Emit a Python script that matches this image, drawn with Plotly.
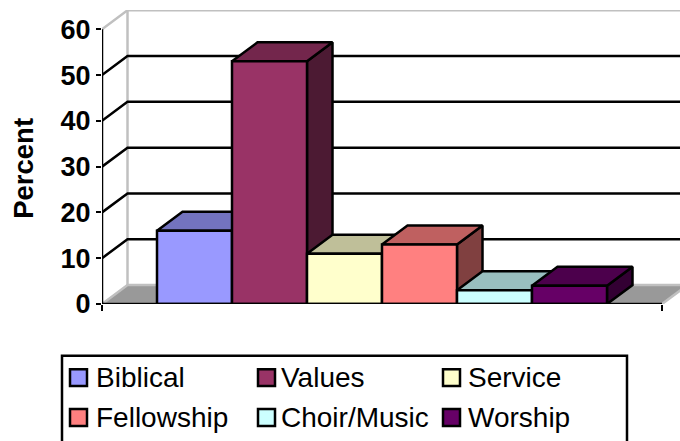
import plotly.graph_objects as go

# ---- data ----
categories = ["Biblical", "Values", "Service", "Fellowship", "Choir/Music", "Worship"]
values = [16, 53, 11, 13, 3, 4]
colors = ["#9999FF", "#993366", "#FFFFCC", "#FF8080", "#CCFFFF", "#660066"]
y_ticks = [0, 10, 20, 30, 40, 50, 60]
y_title = "Percent"

# ---- layout constants (pixels of the 680x441 page) ----
W, H = 680, 441
PLOT_L, PLOT_R, PLOT_T, PLOT_B = 102, 680, 10, 304.3
PX_PER_BAR = 75.0
PX_PER_PCT = 275.0 / 60
X_END = 560 / PX_PER_BAR
GAP = 55 / PX_PER_BAR
DX = 25.5 / PX_PER_BAR
DY = 19 / PX_PER_PCT
FONT = "Liberation Sans"
TOP_SHADE, SIDE_SHADE = 0.75, 0.5
LW = 2.5


def shade(hex_color, k):
    r, g, b = (int(hex_color[i:i + 2], 16) for i in (1, 3, 5))
    return f"rgb({round(r * k)},{round(g * k)},{round(b * k)})"


def px(x):
    return (x - PLOT_L) / (PLOT_R - PLOT_L)


def py(y):
    return (PLOT_B - y) / (PLOT_B - PLOT_T)


def poly(xs, ys, fill, line, width=LW):
    return go.Scatter(
        x=xs, y=ys, mode="lines", fill="toself", fillcolor=fill,
        line=dict(color=line, width=width), hoverinfo="skip",
        showlegend=False, cliponaxis=False,
    )


def path(xs, ys, color, width=LW):
    return go.Scatter(
        x=xs, y=ys, mode="lines", line=dict(color=color, width=width),
        hoverinfo="skip", showlegend=False, cliponaxis=False,
    )


fig = go.Figure()
top_tick = max(y_ticks)

# floor
fig.add_trace(poly([0, DX, X_END + DX, X_END, 0], [0, DY, DY, 0, 0], "#999999", "#C0C0C0"))
# back wall and side wall edges
fig.add_trace(path([0, DX, X_END + DX], [top_tick, top_tick + DY, top_tick + DY], "#C0C0C0"))
fig.add_trace(path([DX, DX], [DY, top_tick + DY], "#C0C0C0"))
# gridlines
for t in y_ticks[1:-1]:
    fig.add_trace(path([0, DX, X_END + DX], [t, t + DY, t + DY], "black"))

# bars: side, top, front for each, left to right
for i, (name, v, c) in enumerate(zip(categories, values, colors)):
    x0, x1 = GAP + i, GAP + i + 1
    fig.add_trace(poly([x1, x1 + DX, x1 + DX, x1, x1], [0, DY, v + DY, v, 0], shade(c, SIDE_SHADE), "black"))
    fig.add_trace(poly([x0, x0 + DX, x1 + DX, x1, x0], [v, v + DY, v + DY, v, v], shade(c, TOP_SHADE), "black"))
    fig.add_trace(poly([x0, x0, x1, x1, x0], [0, v, v, 0, 0], c, "black"))
    fig.data[-1].name = name

# front axis lines
fig.add_trace(path([0, X_END], [0, 0], "black"))
fig.add_trace(path([0, 0], [0, top_tick], "black"))

annotations = [dict(
    text=f"<b>{y_title}</b>", xref="paper", yref="paper", x=px(24), y=py(168),
    xanchor="center", yanchor="middle", textangle=-90, showarrow=False,
    font=dict(family=FONT, size=27.5, color="black"),
)]

# legend box
shapes = [dict(type="rect", xref="paper", yref="paper", x0=px(62), x1=px(627), y0=py(356), y1=py(460),
               line=dict(color="black", width=2.5), fillcolor="white")]
LEG_X = [70, 258, 443]
LEG_TEXT_X = [94, 279, 466]
LEG_Y = [378, 418]
for i, (name, c) in enumerate(zip(categories, colors)):
    lx, tx, ly = LEG_X[i % 3], LEG_TEXT_X[i % 3], LEG_Y[i // 3]
    shapes.append(dict(type="rect", xref="paper", yref="paper", x0=px(lx), x1=px(lx + 17),
                       y0=py(ly - 8.5), y1=py(ly + 8.5), line=dict(color="black", width=2.5), fillcolor=c))
    annotations.append(dict(text=name, xref="paper", yref="paper", x=px(tx), y=py(ly),
                            xanchor="left", yanchor="middle", showarrow=False,
                            font=dict(family=FONT, size=28, color="black")))

fig.update_layout(
    width=W, height=H, autosize=False, showlegend=False,
    paper_bgcolor="white", plot_bgcolor="white",
    margin=dict(l=PLOT_L, r=W - PLOT_R, t=PLOT_T, b=H - PLOT_B, pad=0),
    xaxis=dict(range=[0, (PLOT_R - PLOT_L) / PX_PER_BAR], tickvals=[0, X_END], ticktext=["", ""],
               ticks="outside", ticklen=6, tickwidth=2, tickcolor="black",
               showgrid=False, zeroline=False, showline=False),
    yaxis=dict(range=[0, (PLOT_B - PLOT_T) / PX_PER_PCT], tickvals=y_ticks,
               ticks="outside", ticklen=5, tickwidth=2, tickcolor="black",
               tickfont=dict(family=FONT, size=27, color="black", weight=700),
               showgrid=False, zeroline=False, showline=False),
    shapes=shapes, annotations=annotations,
)
fig.write_html("out.html", config={"displayModeBar": False},
               post_script="document.body.style.margin='0';document.body.style.overflow='hidden';")
